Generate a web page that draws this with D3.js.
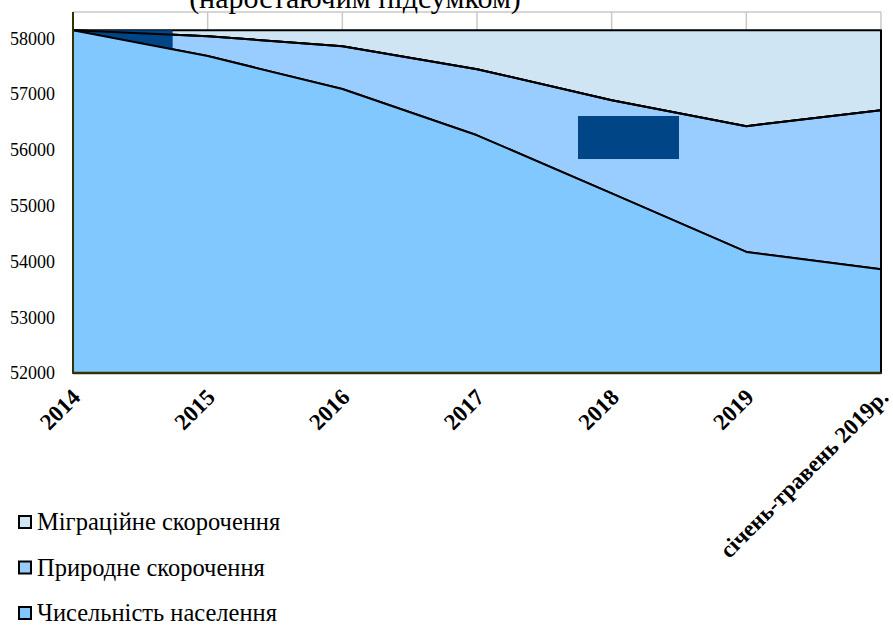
<!DOCTYPE html>
<html lang="uk">
<head>
<meta charset="utf-8">
<title>Чисельність населення</title>
<style>
  body { margin: 0; background: #fff; }
  svg { display: block; font-family: "Liberation Serif", "Times New Roman", serif; }
  .ylab { font-size: 18px; fill: #000; }
  .xlab { font-size: 23px; font-weight: bold; fill: #000; }
  .leg { font-size: 24.5px; fill: #000; }
</style>
</head>
<body>
<svg width="893" height="626"></svg>
<script src="https://d3js.org/d3.v7.min.js"></script>
<script>
  const categories = ["2014", "2015", "2016", "2017", "2018", "2019", "січень-травень 2019р."];
  const population = [58143, 57680, 57090, 56260, 55220, 54170, 53860];
  const natural    = [0, 356, 767, 1185, 1670, 2254, 2851];
  const migration  = [0, 107, 286, 698, 1253, 1719, 1432];
  const yTicks = [52000, 53000, 54000, 55000, 56000, 57000, 58000];

  // dark label boxes (category index span, value span)
  const boxes = [
    {i0: 0, i1: 0.74, v0: 57806, v1: 58143, under: true},
    {i0: 3.75, i1: 4.5, v0: 55835, v1: 56606, under: false}
  ];

  const legendItems = [
    {name: "Міграційне скорочення", color: "#cfe5f3"},
    {name: "Природне скорочення", color: "#99ccff"},
    {name: "Чисельність населення", color: "#80c8ff"}
  ];

  const colors = {population: "#80c8ff", natural: "#99ccff", migration: "#cfe5f3"};
  const margin = {top: 12, right: 12, bottom: 253, left: 73};

  const svg = d3.select("svg");
  const width = +svg.attr("width") - margin.left - margin.right;
  const height = +svg.attr("height") - margin.top - margin.bottom;

  const g = svg.append("g").attr("transform", `translate(${margin.left},${margin.top})`);

  const x = d3.scaleLinear().domain([0, categories.length - 1]).range([0, width]);
  const y = d3.scaleLinear().domain([52000, 58470]).range([height, 0]).clamp(true);

  // title remnant (cut off at the top edge in the original)
  svg.append("text")
    .attr("x", 355).attr("y", 8)
    .attr("text-anchor", "middle")
    .style("font-size", "30px")
    .text("(наростаючим підсумком)");

  // plot top border and vertical gridlines
  g.append("line").attr("x1", 0).attr("x2", width).attr("y1", 0).attr("y2", 0)
    .attr("stroke", "#c8c8c8").attr("stroke-width", 1.5);
  g.selectAll(".vgrid").data(d3.range(1, categories.length))
    .enter().append("line")
    .attr("class", "vgrid")
    .attr("x1", d => x(d)).attr("x2", d => x(d))
    .attr("y1", 0).attr("y2", height)
    .attr("stroke", "#c8c8c8").attr("stroke-width", 1.5);

  const rows = categories.map((c, i) => ({
    i: i, population: population[i], natural: natural[i], migration: migration[i]
  }));
  const series = d3.stack().keys(["population", "natural", "migration"])(rows);

  const area = d3.area()
    .x(d => x(d.data.i))
    .y0(d => y(d[0]))
    .y1(d => y(d[1]));

  const byKey = {};
  series.forEach(s => byKey[s.key] = s);

  function drawArea(key) {
    g.append("path")
      .datum(byKey[key])
      .attr("d", area)
      .attr("fill", colors[key])
      .attr("stroke", "#000")
      .attr("stroke-width", 2)
      .attr("stroke-linejoin", "round");
  }

  function drawBox(b) {
    g.append("rect")
      .attr("x", x(b.i0)).attr("y", y(b.v1))
      .attr("width", x(b.i1) - x(b.i0))
      .attr("height", y(b.v0) - y(b.v1))
      .attr("fill", "#004586");
  }

  drawArea("migration");
  drawArea("natural");
  boxes.filter(b => b.under).forEach(drawBox);
  drawArea("population");
  // redraw the top edge of the natural layer above
  g.append("path")
    .datum(byKey["natural"])
    .attr("d", d3.line().x(d => x(d.data.i)).y(d => y(d[1])))
    .attr("fill", "none").attr("stroke", "#000").attr("stroke-width", 2);
  boxes.filter(b => !b.under).forEach(drawBox);

  // axes
  g.append("line").attr("x1", 0).attr("x2", 0).attr("y1", 0).attr("y2", height)
    .attr("stroke", "#333300").attr("stroke-width", 2);
  g.append("line").attr("x1", 0).attr("x2", width).attr("y1", height).attr("y2", height)
    .attr("stroke", "#333300").attr("stroke-width", 2.5);

  g.selectAll(".ylab").data(yTicks)
    .enter().append("text")
    .attr("class", "ylab")
    .attr("x", -18)
    .attr("y", d => y(d))
    .attr("dy", "0.35em")
    .attr("text-anchor", "end")
    .text(d => d);

  g.selectAll(".xlab").data(categories)
    .enter().append("text")
    .attr("class", "xlab")
    .attr("transform", (d, i) => `translate(${x(i) + 3},${height + 20}) rotate(-45)`)
    .attr("text-anchor", "end")
    .attr("dy", "0.35em")
    .text(d => d);

  // legend
  const leg = svg.append("g").attr("transform", "translate(19,522)");
  const li = leg.selectAll("g").data(legendItems).enter().append("g")
    .attr("transform", (d, i) => `translate(0,${i * 45.5})`);
  li.append("rect")
    .attr("x", 0).attr("y", -6).attr("width", 12).attr("height", 12)
    .attr("fill", d => d.color).attr("stroke", "#000").attr("stroke-width", 2);
  li.append("text")
    .attr("class", "leg")
    .attr("x", 18).attr("dy", "0.33em")
    .text(d => d.name);
</script>
</body>
</html>
